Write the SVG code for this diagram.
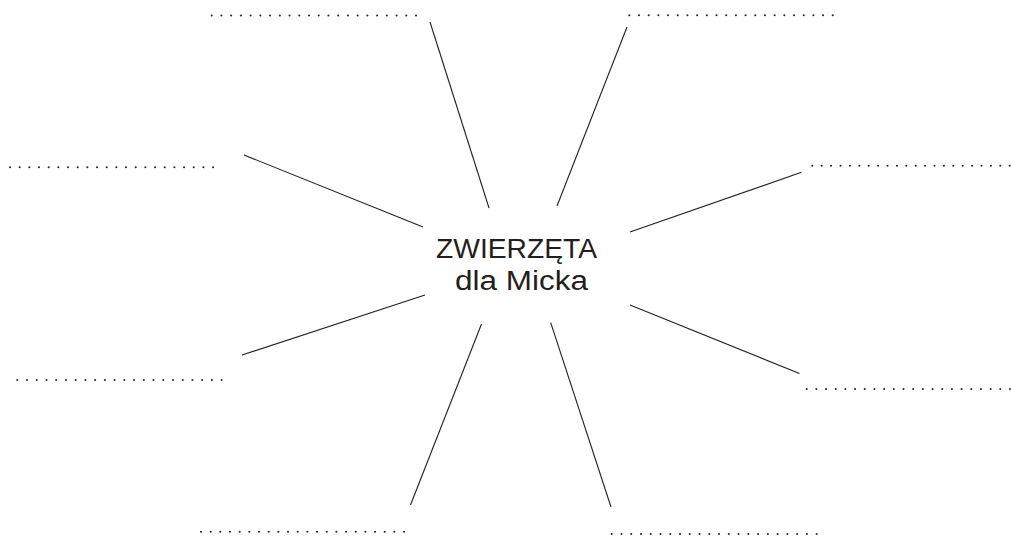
<svg xmlns="http://www.w3.org/2000/svg" width="1011" height="536" viewBox="0 0 1011 536">
<style>
.ln{stroke:#231f20;stroke-width:1.1;fill:none}
.dt{stroke:#2a2a2a;stroke-width:2.1;stroke-linecap:round;fill:none}
.t{font-family:"Liberation Sans",Arial,sans-serif;font-size:27px;fill:#231f20;text-anchor:middle}
</style>
<rect width="1011" height="536" fill="#ffffff"/>
<g id="center">
<text class="t" x="516.5" y="258" textLength="161" lengthAdjust="spacingAndGlyphs">ZWIERZĘTA</text>
<text class="t" x="521.5" y="290" textLength="133" lengthAdjust="spacingAndGlyphs">dla Micka</text>
</g>
<g id="connectors">
<line class="ln" x1="430" y1="22" x2="489" y2="208"/>
<line class="ln" x1="627" y1="27" x2="557" y2="206"/>
<line class="ln" x1="244" y1="155" x2="423" y2="227"/>
<line class="ln" x1="801.5" y1="172.3" x2="630" y2="232"/>
<line class="ln" x1="242" y1="355" x2="425" y2="295"/>
<line class="ln" x1="630" y1="305" x2="799.5" y2="373.5"/>
<line class="ln" x1="481.5" y1="324" x2="410.5" y2="505"/>
<line class="ln" x1="550.7" y1="322.7" x2="611" y2="507"/>
</g>
<g id="blank-top-left"><path class="dt" d="M211.7 15.5H416.5" stroke-dasharray="0 9.73"/></g>
<g id="blank-top-right"><path class="dt" d="M629.3 15.3H833" stroke-dasharray="0 9.69"/></g>
<g id="blank-left-upper"><path class="dt" d="M10 167.3H213.3" stroke-dasharray="0 9.67"/></g>
<g id="blank-right-upper"><path class="dt" d="M812.3 165.7H1010" stroke-dasharray="0 9.4"/></g>
<g id="blank-left-lower"><path class="dt" d="M17.3 380H222" stroke-dasharray="0 9.73"/></g>
<g id="blank-right-lower"><path class="dt" d="M806.7 389H1010.5" stroke-dasharray="0 9.68"/></g>
<g id="blank-bottom-left"><path class="dt" d="M201 531.7H404.3" stroke-dasharray="0 9.67"/></g>
<g id="blank-bottom-right"><path class="dt" d="M611.7 534H817" stroke-dasharray="0 9.76"/></g>
</svg>
